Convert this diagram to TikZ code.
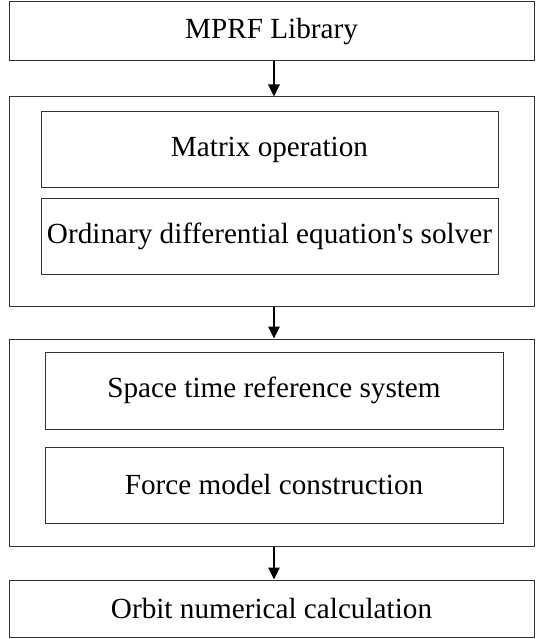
\documentclass[tikz,border=0pt]{standalone}
\usepackage{fontspec}
\setmainfont{Liberation Serif}[Ligatures=TeXOff]
\usetikzlibrary{arrows.meta}
\begin{document}
\begin{tikzpicture}[x=1pt,y=-1pt,
  boxstyle/.style={draw=black!80,line width=1pt,rectangle,inner sep=0pt,font=\fontsize{29.2}{31}\selectfont},
  flowarrow/.style={-{Triangle[length=12pt,width=11pt]},line width=2.6pt,black}]
\useasboundingbox (0,0) rectangle (535,639);
\fill[white] (0,0) rectangle (535,639);
\node[boxstyle,minimum width=525pt,minimum height=59pt] (lib) at (271.5,31.5) {MPRF Library};
\node[boxstyle,minimum width=525pt,minimum height=209pt] (grp1) at (271.5,201.5) {};
\node[boxstyle,minimum width=457pt,minimum height=75pt] (mat) at (269.5,149.5) {Matrix operation};
\node[boxstyle,minimum width=457pt,minimum height=76pt] (ode) at (269.5,236) {Ordinary differential equation's solver};
\node[boxstyle,minimum width=525pt,minimum height=207pt] (grp2) at (271.5,442.5) {};
\node[boxstyle,minimum width=458pt,minimum height=77pt] (str) at (274,390.5) {Space time reference system};
\node[boxstyle,minimum width=458pt,minimum height=76pt] (frc) at (274,485) {Force model construction};
\node[boxstyle,minimum width=525pt,minimum height=57pt] (orb) at (271.5,608.5) {Orbit numerical calculation};
\draw[flowarrow] (lib.south -| 274,0) -- (grp1.north -| 274,0);
\draw[flowarrow] (grp1.south -| 274,0) -- (grp2.north -| 274,0);
\draw[flowarrow] (grp2.south -| 274,0) -- (orb.north -| 274,0);
\end{tikzpicture}
\end{document}
